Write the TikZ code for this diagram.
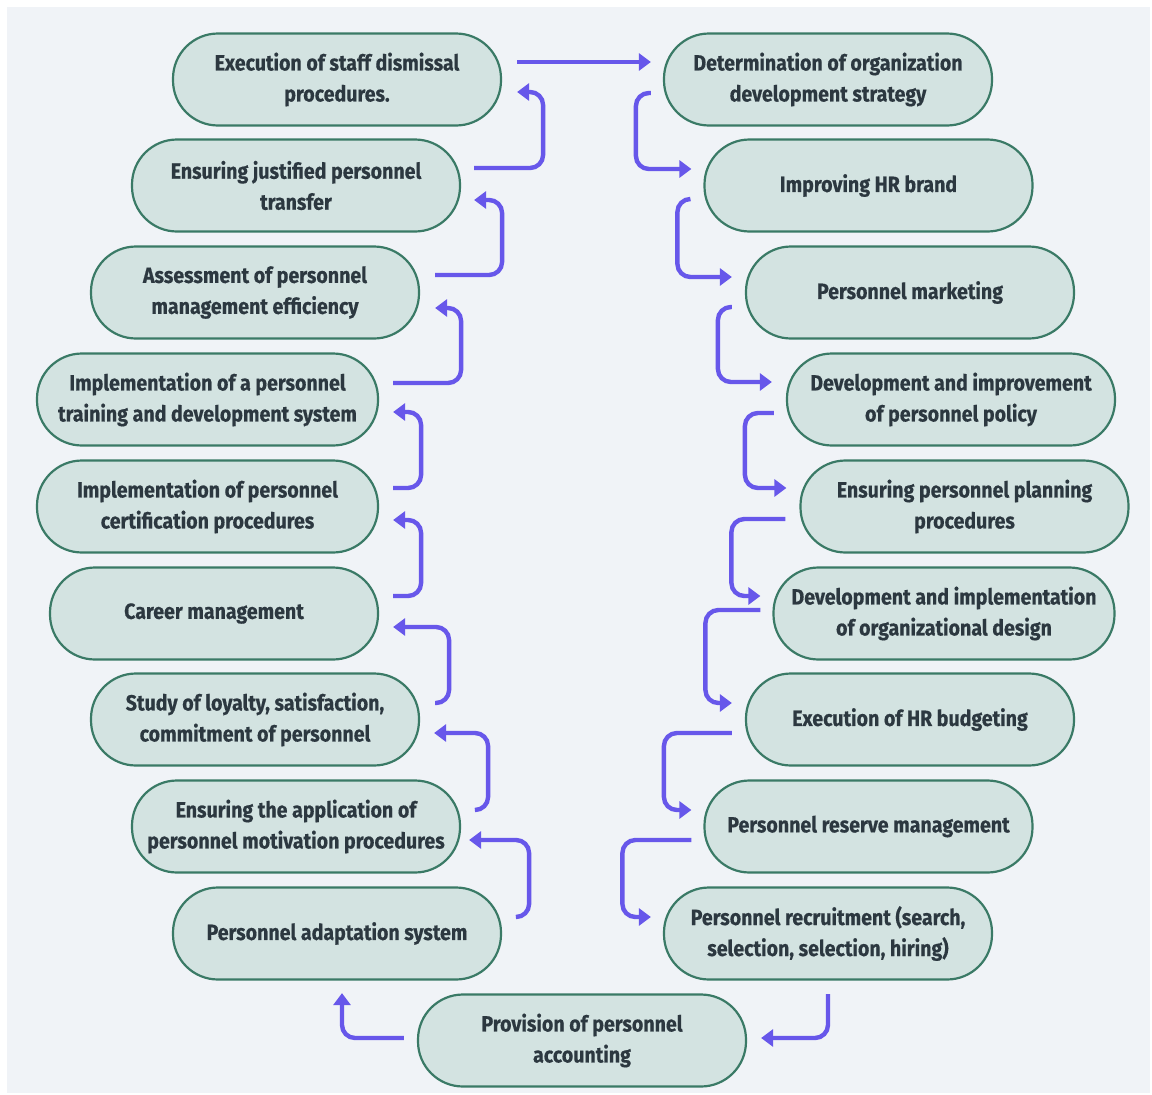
\documentclass[tikz,border=0pt]{standalone}
\usepackage{fontspec}
\setmainfont{Fira Sans}[FakeStretch=0.89, BoldFeatures={FakeBold=0.5}]
\usetikzlibrary{arrows.meta,calc}
\definecolor{bgc}{HTML}{F0F3F7}
\definecolor{boxfill}{HTML}{D3E3E1}
\definecolor{boxline}{HTML}{3A7A66}
\definecolor{txt}{HTML}{2C3840}
\definecolor{arr}{HTML}{6757EA}
\tikzset{
  pill/.style={draw=boxline, fill=boxfill, line width=2.2pt, rounded corners=45pt,
    minimum width=328pt, minimum height=92pt, align=center, inner sep=0pt,
    text=txt, font=\fontsize{22}{31}\selectfont\bfseries},
  widepill/.style={pill, minimum width=341pt},
  conn/.style={draw=arr, line width=4.4pt, rounded corners=13pt,
    -{Triangle[length=12pt,width=17pt]}}
}
\newcommand{\lowered}[1]{\raisebox{-2pt}{\begin{tabular}{@{}c@{}}#1\end{tabular}}}
\begin{document}
\begin{tikzpicture}[x=1pt,y=-1pt]
\useasboundingbox (0,0) rectangle (1152,1095);
\fill[white] (0,0) rectangle (1152,1095);
\fill[bgc] (7,7) rectangle (1150,1093);
% left column
\node[pill] (L1) at (337,79.5) {Execution of staff dismissal\\procedures.};
\node[pill] (L2) at (296,185.5) {Ensuring justified personnel\\transfer};
\node[pill] (L3) at (255,292.5) {Assessment of personnel\\management efficiency};
\node[widepill] (L4) at (207.5,399.5) {Implementation of a personnel\\training and development system};
\node[widepill] (L5) at (207.5,506.5) {Implementation of personnel\\certification procedures};
\node[pill] (L6) at (214,613.5) {Career management};
\node[pill] (L7) at (255,719.5) {Study of loyalty, satisfaction,\\commitment of personnel};
\node[pill] (L8) at (296,826.5) {Ensuring the application of\\personnel motivation procedures};
\node[pill] (L9) at (337,933.5) {Personnel adaptation system};
% bottom
\node[pill] (B) at (582,1040.5) {Provision of personnel\\accounting};
% right column
\node[pill] (R1) at (828,79.5) {Determination of organization\\development strategy};
\node[pill] (R2) at (868.5,185.5) {Improving HR brand};
\node[pill] (R3) at (910,292.5) {Personnel marketing};
\node[pill] (R4) at (951,399.5) {Development and improvement\\of personnel policy};
\node[pill] (R5) at (964.5,506.5) {Ensuring personnel planning\\procedures};
\node[widepill] (R6) at (944,613.5) {Development and implementation\\of organizational design};
\node[pill] (R7) at (910,719.5) {Execution of HR budgeting};
\node[pill] (R8) at (868.5,826.5) {Personnel reserve management};
\node[pill] (R9) at (828,933.5) {Personnel recruitment (search,\\selection, selection, hiring)};
% top link
\draw[conn] ($(L1.east)+(15,-17.5)$) -- ($(R1.west)+(-12,-17.5)$);
% right side connectors
\draw[conn] ($(R1.west)+(-12,13.5)$) -- ++(-15,0) |- ($(R2.west)+(-12,-16.5)$);
\draw[conn] ($(R2.west)+(-13,13.5)$) -- ++(-13,0) |- ($(R3.west)+(-13,-15.5)$);
\draw[conn] ($(R3.west)+(-13,14.5)$) -- ++(-14,0) |- ($(R4.west)+(-14,-17.5)$);
\draw[conn] ($(R4.west)+(-12,13.5)$) -- ++(-29,0) |- ($(R5.west)+(-13,-18.5)$);
\draw[conn] ($(R5.west)+(-14,12.5)$) -- ++(-54,0) |- ($(R6.west)+(-12,-17.5)$);
\draw[conn] ($(R6.west)+(-12,-3.5)$) -- ++(-55,0) |- ($(R7.west)+(-13,-16.5)$);
\draw[conn] ($(R7.west)+(-13,13.5)$) -- ++(-68,0) |- ($(R8.west)+(-12,-16.5)$);
\draw[conn] ($(R8.west)+(-12,13.5)$) -- ++(-69,0) |- ($(R9.west)+(-12,-16.5)$);
% bottom connectors
\draw[conn] ($(R9.south)+(0,13.5)$) |- ($(B.east)+(14,-2.5)$);
\draw[conn] ($(B.west)+(-13,-2.5)$) -| ($(L9.south)+(5,12.5)$);
% left side connectors
\draw[conn] ($(L9.east)+(15,-16.5)$) -- ++(12,0) |- ($(L8.east)+(8,13.5)$);
\draw[conn] ($(L8.east)+(15,-16.5)$) -- ++(12,0) |- ($(L7.east)+(14,13.5)$);
\draw[conn] ($(L7.east)+(15,-16.5)$) -- ++(14,0) |- ($(L6.east)+(14,13.5)$);
\draw[conn] ($(L6.east)+(14,-17.5)$) -- ++(28,0) |- ($(L5.east)+(14,13.5)$);
\draw[conn] ($(L5.east)+(14,-18.5)$) -- ++(28,0) |- ($(L4.east)+(14,12.5)$);
\draw[conn] ($(L4.east)+(14,-16.5)$) -- ++(68,0) |- ($(L3.east)+(15,15.5)$);
\draw[conn] ($(L3.east)+(15,-17.5)$) -- ++(67,0) |- ($(L2.east)+(13,14.5)$);
\draw[conn] ($(L2.east)+(13,-17.5)$) -- ++(69,0) |- ($(L1.east)+(15,12.5)$);
\end{tikzpicture}
\end{document}
